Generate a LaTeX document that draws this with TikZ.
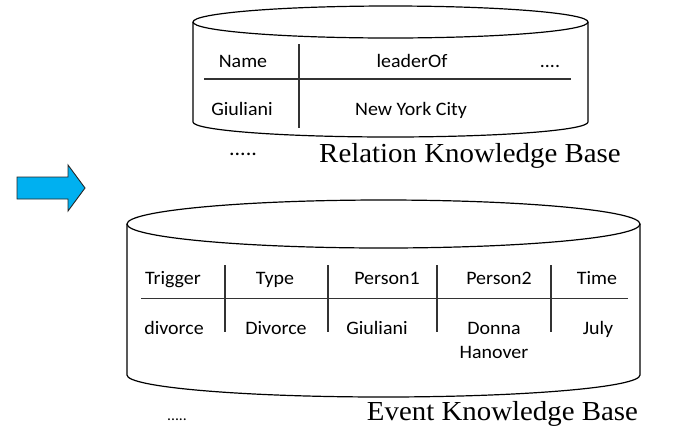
\documentclass[tikz,border=0pt]{standalone}
\usepackage{fontspec}
\newfontfamily\cellfont{Carlito}[FakeStretch=1.05]
\newfontfamily\titlefont{Liberation Serif}[FakeStretch=1.05]
\definecolor{arrowblue}{HTML}{00B0F0}
\tikzset{
  kbline/.style={draw=black, line width=1.2pt},
  grid/.style={draw=black!80, line width=1.1pt},
  cell/.style={font=\cellfont\fontsize{19}{24}\selectfont, anchor=base, inner sep=0pt},
  kbtitle/.style={font=\titlefont\fontsize{27.5}{32}\selectfont, anchor=base, inner sep=0pt},
  dots/.style={font=\cellfont\fontsize{15}{18}\selectfont, anchor=base, inner sep=0pt},
  bigdots/.style={font=\cellfont\fontsize{21}{24}\selectfont, anchor=base, inner sep=0pt},
  bigarrow/.style={fill=arrowblue, draw=black!85, line width=0.9pt, line join=miter},
}
\begin{document}
\begin{tikzpicture}[x=1pt, y=-1pt]
\useasboundingbox (0,0) rectangle (680,432);

% ---- relation knowledge base (upper cylinder) ----
\draw[kbline] (390.5,22) ellipse [x radius=197.5pt, y radius=16pt];
\draw[kbline] (193,22) -- (193,122)
  arc[start angle=180, end angle=360, x radius=197.5pt, y radius=15pt] -- (588,22);
\draw[grid] (204,79) -- (571,79);
\draw[grid] (299,44) -- (299,128);
\node[cell] (rname)   at (243,67.5) {Name};
\node[cell] (rlead)   at (412,67.5) {leaderOf};
\node[cell] (rmore)   at (550,67.5) {....};
\node[cell] (rgiul)   at (242,115) {Giuliani};
\node[cell] (rnyc)    at (411,115) {New York City};
\node[bigdots] (rdots) at (243,155) {.....};
\node[kbtitle] (rtitle) at (470,162) {Relation Knowledge Base};

% ---- arrow ----
\draw[bigarrow] (17,177) -- (68,177) -- (68,165) -- (85,188) -- (68,211)
  -- (68,199) -- (17,199) -- cycle;

% ---- event knowledge base (lower cylinder) ----
\draw[kbline] (383.5,224) ellipse [x radius=256.5pt, y radius=24pt];
\draw[kbline] (127,224) -- (127,375)
  arc[start angle=180, end angle=360, x radius=256.5pt, y radius=22pt] -- (640,224);
\draw[grid] (141,298.5) -- (628,298.5);
\foreach \xx in {225,328,437,551}
  \draw[grid] (\xx,265) -- (\xx,332);
\node[cell] (htrig) at (173,284.5) {Trigger};
\node[cell] (htype) at (275,284.5) {Type};
\node[cell] (hp1)   at (387,284.5) {Person1};
\node[cell] (hp2)   at (499,284.5) {Person2};
\node[cell] (htime) at (597,284.5) {Time};
\node[cell] (vtrig) at (174,334) {divorce};
\node[cell] (vtype) at (276,334) {Divorce};
\node[cell] (vp1)   at (377,334) {Giuliani};
\node[cell] (vp2a)  at (494,334) {Donna};
\node[cell] (vp2b)  at (494,358) {Hanover};
\node[cell] (vtime) at (598,334) {July};
\node[dots] (edots) at (177,420) {.....};
\node[kbtitle] (etitle) at (502.5,420) {Event Knowledge Base};
\end{tikzpicture}
\end{document}
